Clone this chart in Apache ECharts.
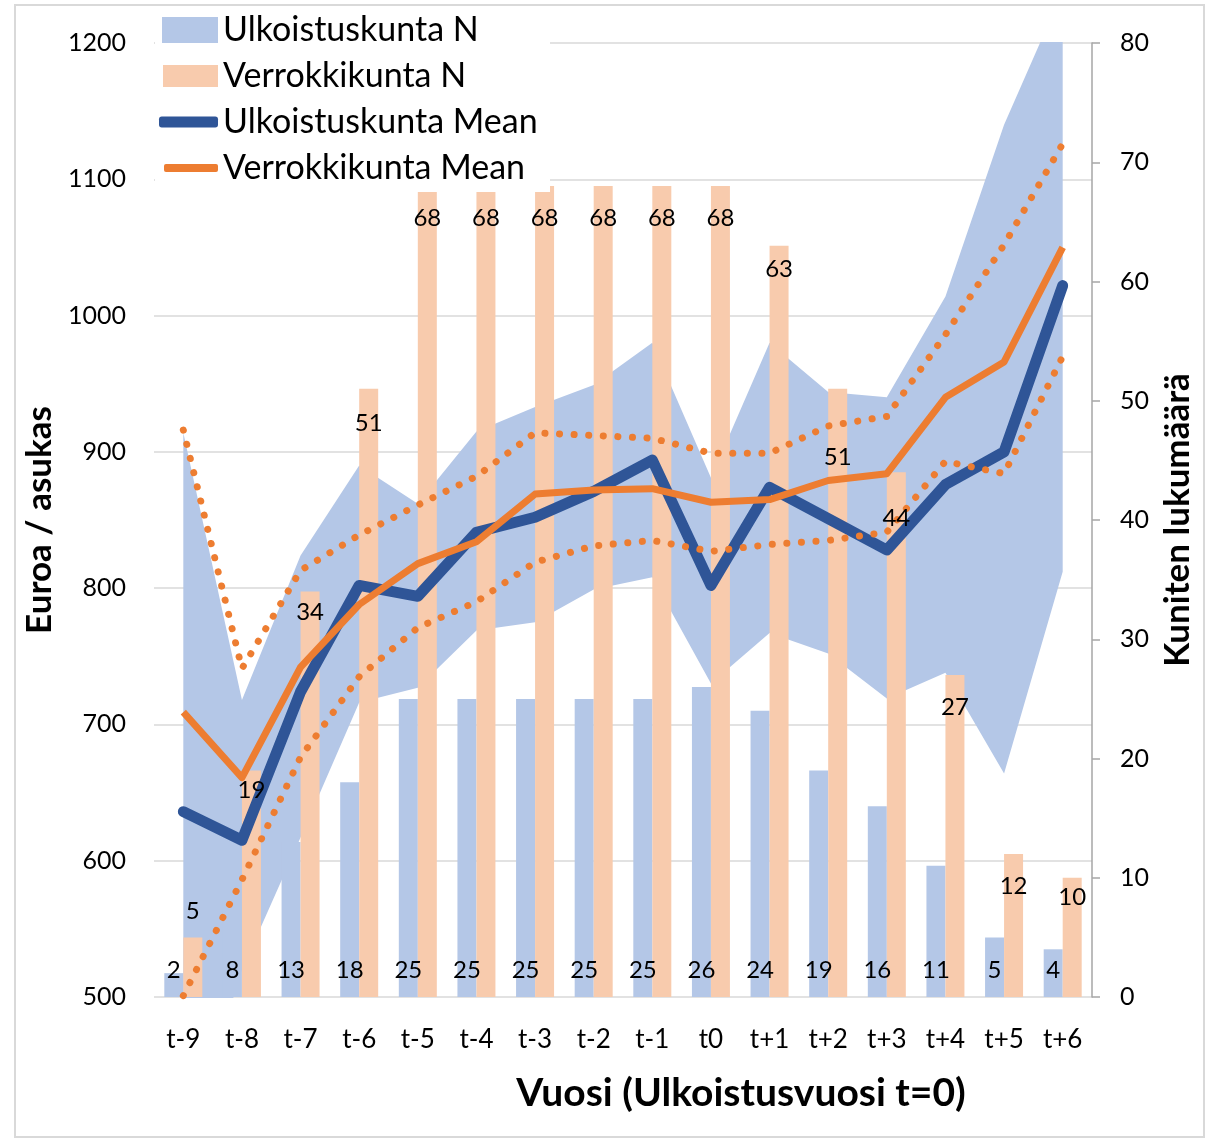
<!DOCTYPE html>
<html>
<head>
<meta charset="utf-8">
<script src="https://cdn.jsdelivr.net/npm/echarts@6/dist/echarts.min.js"></script>
<style>
    html, body { margin: 0; padding: 0; background: #fff; }
    #main { width: 1215px; height: 1142px; }
</style>
</head>
<body>
<div id="main"></div>
<script>
// vuodet ja arvot luettu kuvasta
var years = ['t-9', 't-8', 't-7', 't-6', 't-5', 't-4', 't-3', 't-2', 't-1', 't0', 't+1', 't+2', 't+3', 't+4', 't+5', 't+6'];
var ulkN = [2, 8, 13, 18, 25, 25, 25, 25, 25, 26, 24, 19, 16, 11, 5, 4];
var verN = [5, 19, 34, 51, 68, 68, 68, 68, 68, 68, 63, 51, 44, 27, 12, 10];
var ulkMean = [636, 615, 724, 802, 794, 841, 852, 871, 894, 802, 874, 851, 828, 876, 900, 1022];
var verMean = [709, 661, 742, 788, 818, 834, 869, 872, 873, 863, 865, 879, 884, 940, 966, 1050];
var verHigh = [916, 741, 813, 839, 861, 882, 914, 912, 910, 899, 899, 919, 926, 986, 1052, 1126];
var verLow = [501, 586, 676, 735, 771, 790, 819, 831, 835, 827, 832, 835, 841, 893, 884, 970];
var ulkHigh = [914, 718, 824, 890, 862, 915, 933, 949, 980, 881, 980, 944, 940, 1014, 1140, 1238];
var ulkLow = [380, 520, 617, 716, 727, 769, 775, 799, 808, 730, 767, 752, 719, 738, 664, 812];

// label distance from bar top (Verrokkikunta N)
var verLabelDist = [14, 8, 9, 22, 20, 20, 20, 20, 20, 20, 12, 56, 34, 20, 20, 8];

var font = 'Lato';
var blue = '#2f5597', orange = '#ed7d31', lightBlue = '#b4c7e7', peach = '#f8cbad';

var ulkBand = ulkHigh.map(function (v, i) { return v - ulkLow[i]; });
var zeros = years.map(function () { return 0; });
// nollakorkuiset pylväät, joihin luvut piirretään viivojen päälle
var verLabelData = zeros.map(function (v, i) {
    return {
        value: v,
        label: i === 0 ? { position: 'top', distance: verLabelDist[i] } : { distance: verLabelDist[i] }
    };
});

var myChart = echarts.init(document.getElementById('main'));

function legendOf(name, top, left, w, h, icon, color) {
    return {
        data: [{ name: name, icon: icon, itemStyle: { color: color } }],
        left: left,
        top: top,
        padding: 0,
        itemWidth: w,
        itemHeight: h,
        z: 11,
        selectedMode: false,
        textStyle: { fontFamily: font, fontSize: 34, color: '#000' }
    };
}

var option = {
    animation: false,
    backgroundColor: '#fff',
    textStyle: { fontFamily: font },
    grid: { left: 154, right: 123, top: 43, bottom: 145 },
    legend: [
        legendOf('Ulkoistuskunta N', 13, 162, 56, 26, 'rect', lightBlue),
        legendOf('Verrokkikunta N', 59, 163, 55, 22, 'rect', peach),
        legendOf('Ulkoistuskunta Mean', 105, 159, 59, 11, 'roundRect', blue),
        legendOf('Verrokkikunta Mean', 151, 164, 54, 8, 'roundRect', orange)
    ],
    graphic: [
        { type: 'rect', z: 0, shape: { x: 15, y: 5, width: 1189, height: 1132 },
          style: { fill: null, stroke: '#d9d9d9', lineWidth: 2 } },
        { type: 'rect', z: 10, shape: { x: 155, y: 8, width: 395, height: 184 },
          style: { fill: '#fff' } },
        { type: 'text', z: 10, x: 741, y: 1093,
          style: { text: 'Vuosi (Ulkoistusvuosi t=0)', fontFamily: font, fontWeight: 'bold',
                   fontSize: 39, fill: '#000', align: 'center', verticalAlign: 'middle' } }
    ],
    xAxis: {
        type: 'category',
        data: years,
        axisLine: { show: false },
        axisTick: { show: false },
        axisLabel: { fontSize: 26, color: '#000', margin: 30 }
    },
    yAxis: [{
        type: 'value',
        min: 500,
        max: 1200,
        interval: 100,
        name: 'Euroa / asukas',
        nameLocation: 'middle',
        nameRotate: 90,
        nameGap: 79,
        nameTextStyle: { fontSize: 35, fontWeight: 'bold', color: '#000' },
        axisLine: { show: false },
        axisTick: { show: false },
        axisLabel: { fontSize: 25, color: '#000', margin: 28, formatter: function (v) { return String(v); } },
        splitLine: { lineStyle: { color: '#d9d9d9', width: 1.5 } }
    }, {
        type: 'value',
        min: 0,
        max: 80,
        interval: 10,
        name: 'Kuniten lukumäärä',
        nameLocation: 'middle',
        nameRotate: 90,
        nameGap: 66,
        nameTextStyle: { fontSize: 35, fontWeight: 'bold', color: '#000' },
        axisLine: { show: true, lineStyle: { color: '#a6a6a6', width: 1.5 } },
        axisTick: { show: true, length: 8, lineStyle: { color: '#a6a6a6', width: 1.5 } },
        axisLabel: { fontSize: 25, color: '#000', margin: 28 },
        splitLine: { show: false }
    }],
    series: [{
        name: 'ulkLow',
        type: 'line',
        stack: 'ci',
        z: 1,
        data: ulkLow,
        symbol: 'none',
        silent: true,
        lineStyle: { opacity: 0 }
    }, {
        name: 'ulkBand',
        type: 'line',
        stack: 'ci',
        z: 1,
        data: ulkBand,
        symbol: 'none',
        silent: true,
        lineStyle: { opacity: 0 },
        areaStyle: { color: lightBlue, opacity: 1 }
    }, {
        name: 'ulkLabels',
        type: 'bar',
        yAxisIndex: 1,
        stack: 'u',
        z: 5,
        data: zeros,
        barWidth: 19,
        barGap: '0%',
        itemStyle: { color: 'transparent' },
        label: {
            show: true, position: 'top', distance: 15, fontSize: 24, color: '#000',
            formatter: function (p) { return ulkN[p.dataIndex]; }
        }
    }, {
        name: 'Ulkoistuskunta N',
        type: 'bar',
        yAxisIndex: 1,
        stack: 'u',
        z: 2,
        data: ulkN,
        barWidth: 19,
        barGap: '0%',
        itemStyle: { color: lightBlue }
    }, {
        name: 'Verrokkikunta N',
        type: 'bar',
        yAxisIndex: 1,
        stack: 'v',
        z: 2,
        data: verN,
        barWidth: 19,
        barGap: '0%',
        itemStyle: { color: peach }
    }, {
        name: 'verLabels',
        type: 'bar',
        yAxisIndex: 1,
        stack: 'v',
        z: 5,
        data: verLabelData,
        barWidth: 19,
        barGap: '0%',
        itemStyle: { color: 'transparent' },
        label: {
            show: true, position: 'insideTop', fontSize: 24, color: '#000',
            formatter: function (p) { return verN[p.dataIndex]; }
        }
    }, {
        name: 'Ulkoistuskunta Mean',
        type: 'line',
        z: 2,
        data: ulkMean,
        symbol: 'none',
        color: blue,
        lineStyle: { color: blue, width: 11, join: 'round', cap: 'round' }
    }, {
        name: 'Verrokkikunta Mean',
        type: 'line',
        z: 2,
        data: verMean,
        symbol: 'none',
        color: orange,
        lineStyle: { color: orange, width: 7, join: 'round' }
    }, {
        name: 'verHigh',
        type: 'line',
        z: 2,
        data: verHigh,
        symbol: 'none',
        lineStyle: { color: orange, width: 7, type: [0.1, 14.5], cap: 'round' }
    }, {
        name: 'verLow',
        type: 'line',
        z: 2,
        data: verLow,
        symbol: 'none',
        lineStyle: { color: orange, width: 7, type: [0.1, 14.5], cap: 'round' }
    }]
};

myChart.setOption(option);
window.onresize = function () {
    myChart.resize();
};
</script>
</body>
</html>
